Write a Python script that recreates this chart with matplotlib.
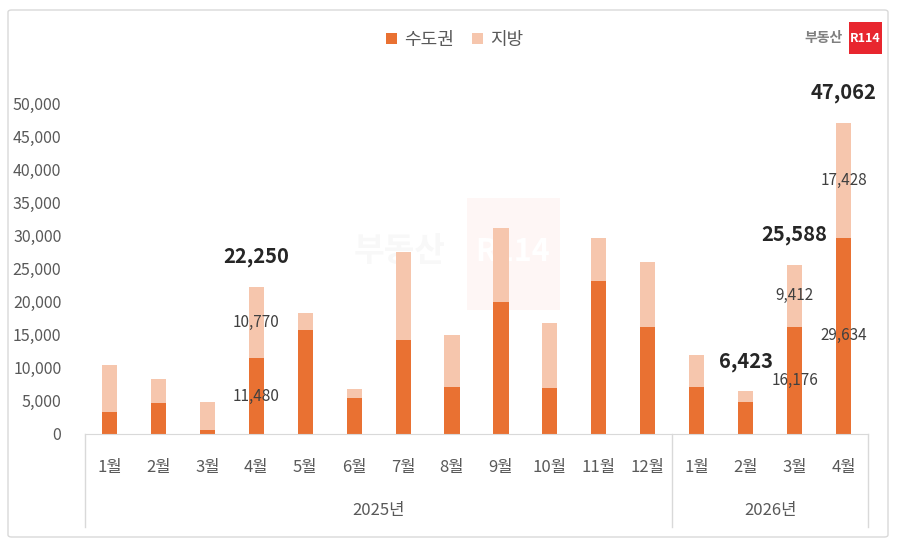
import numpy as np
import matplotlib.pyplot as plt
from matplotlib.patches import Rectangle, FancyBboxPatch
import matplotlib.transforms as mtransforms

plt.rcParams['font.family'] = ['Noto Sans CJK KR', 'DejaVu Sans']

# 데이터
months = ['1월', '2월', '3월', '4월', '5월', '6월', '7월', '8월', '9월', '10월', '11월', '12월',
          '1월', '2월', '3월', '4월']
years = ['2025년', '2026년']
year_counts = [12, 4]
capital = [3320, 4630, 600, 11480, 15760, 5440, 14200, 7150, 19890, 7000, 23110, 16120,
           7150, 4830, 16176, 29634]
local = [7060, 3620, 4180, 10770, 2470, 1310, 13240, 7800, 11270, 9720, 6550, 9910,
         4730, 1593, 9412, 17428]
# 값 표시할 막대 (인덱스)
labeled = [3, 13, 14, 15]
seg_labeled = [3, 14, 15]

c_dark = '#E97132'
c_light = '#F6C6AD'

fig = plt.figure(figsize=(9, 5.52), dpi=100)
W, H = 900, 552

# 바깥 테두리
fig.patches.append(FancyBboxPatch((8 / W, 1 - 537 / H), 880 / W, 527 / H,
                                  boxstyle='round,pad=0,rounding_size=0.004',
                                  transform=fig.transFigure, fill=False,
                                  edgecolor='#D9D9D9', linewidth=1.0))
# 워터마크 (아주 흐리게, 막대 뒤)
fig.patches.append(Rectangle((467 / W, 1 - 310 / H), 93 / W, 112 / H,
                             transform=fig.transFigure, facecolor='#FEF6F5',
                             edgecolor='none', zorder=-2))
fig.text(400 / W, 1 - 252 / H, '부동산', fontsize=24, fontweight='bold',
         color='#F8F8F8', ha='center', va='center', zorder=-1)
fig.text(513 / W, 1 - 252 / H, 'R114', fontsize=22, fontweight='bold',
         color='#FFFFFF', ha='center', va='center', zorder=-1)

ax = fig.add_axes([85 / W, 1 - 434 / H, 783 / W, 364 / H])
ax.patch.set_alpha(0)
x = np.arange(len(months))
ax.bar(x, capital, width=0.31, color=c_dark, label='수도권', zorder=2)
ax.bar(x, local, width=0.31, bottom=capital, color=c_light, label='지방', zorder=2)

ax.set_xlim(-0.5, len(months) - 0.5)
ax.set_ylim(0, 55000)
ax.set_yticks(np.arange(0, 50001, 5000))
ax.set_yticklabels([f'{v:,}' for v in range(0, 50001, 5000)])
ax.tick_params(axis='y', length=0, pad=17, labelsize=11.5, labelcolor='#595959')
ax.set_xticks(x)
ax.set_xticklabels(months)
ax.tick_params(axis='x', length=0, pad=18, labelsize=12, labelcolor='#595959')
for s in ['left', 'top', 'right']:
    ax.spines[s].set_visible(False)
ax.spines['bottom'].set_color('#D9D9D9')

# 연도 구분선과 연도 라벨
trans = mtransforms.blended_transform_factory(ax.transData, ax.transAxes)
edges = [-0.5]
for n in year_counts:
    edges.append(edges[-1] + n)
for e in edges:
    ax.plot([e, e], [0, -0.2555], color='#D9D9D9', linewidth=1, transform=trans, clip_on=False)
for i, yr in enumerate(years):
    ax.text((edges[i] + edges[i + 1]) / 2, -0.209, yr, transform=trans, ha='center',
            va='center', fontsize=12, color='#595959')

# 값 라벨
for i in seg_labeled:
    ax.text(x[i], capital[i] / 2, f'{capital[i]:,}', ha='center', va='center',
            fontsize=11, color='#404040', zorder=3)
    ax.text(x[i], capital[i] + local[i] / 2, f'{local[i]:,}', ha='center', va='center',
            fontsize=11, color='#404040', zorder=3)
for i in labeled:
    tot = capital[i] + local[i]
    ax.annotate(f'{tot:,}', (x[i], tot), xytext=(0, 21.6), textcoords='offset points',
                ha='center', va='center', fontsize=14.5, fontweight='bold', color='#262626')

ax.legend(loc='center', bbox_to_anchor=(455 / W, 1 - 40 / H), bbox_transform=fig.transFigure,
          ncol=2, frameon=False, fontsize=13, handlelength=0.6, handleheight=0.6,
          handletextpad=0.4, columnspacing=1.0, labelcolor='#595959')

# 로고
fig.text(843 / W, 1 - 38 / H, '부동산', fontsize=10, fontweight='bold', color='#7F7F7F',
         ha='right', va='center')
fig.patches.append(Rectangle((849 / W, 1 - 54 / H), 33 / W, 32 / H,
                             transform=fig.transFigure, facecolor='#E8262E', edgecolor='none'))
fig.text(865.5 / W, 1 - 38 / H, 'R114', fontsize=9, fontweight='bold', color='white',
         ha='center', va='center')

fig.savefig('out.png', dpi=100)
